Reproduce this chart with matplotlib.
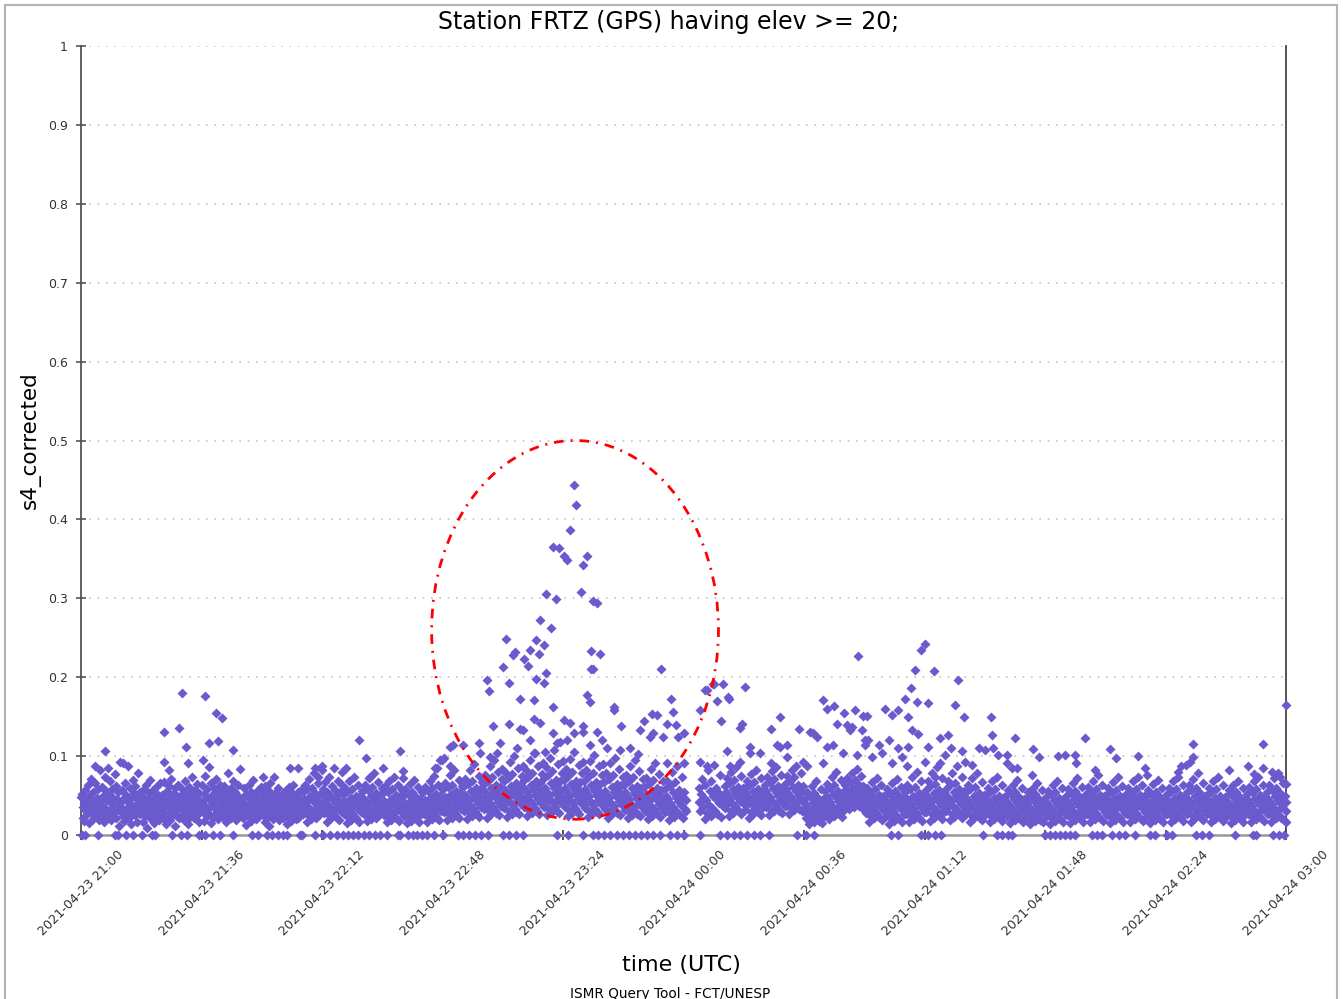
import numpy as np
import pandas as pd
import matplotlib
matplotlib.use("Agg")
import matplotlib.pyplot as plt
import matplotlib.dates as mdates
from matplotlib.patches import Ellipse
from matplotlib.lines import Line2D

# time is in minutes after 2021-04-23 21:00 UTC, s4 values in thousandths for the dense band
t_start = pd.Timestamp("2021-04-23 21:00")

block_start = [0, 6, 12, 18, 24, 30, 36, 42, 48, 54, 60, 66, 72, 78, 84, 90, 96, 102, 108, 114,
               120, 126, 132, 138, 144, 150, 156, 162, 168, 174, 184.4, 192, 198, 204, 210, 216,
               222, 228, 234, 240, 246, 252, 258, 264, 270, 276, 282, 288, 294, 300, 306, 312,
               318, 324, 330, 336, 342, 348, 354]
block_end = [6, 12, 18, 24, 30, 36, 42, 48, 54, 60, 66, 72, 78, 84, 90, 96, 102, 108, 114, 120,
             126, 132, 138, 144, 150, 156, 162, 168, 174, 181.0, 192, 198, 204, 210, 216, 222,
             228, 234, 240, 246, 252, 258, 264, 270, 276, 282, 288, 294, 300, 306, 312, 318,
             324, 330, 336, 342, 348, 354, 360]
block_vals = [
    "48 52 35 22 41 18 57 30 44 26 63 38 15 50 29 71 45 33 20 55 40 27 66 36 24 47 31 58 19 43 82 34",
    "39 61 27 49 16 73 34 56 22 44 85 31 52 25 68 41 19 58 36 47 28 77 33 62 21 45 38 54 12 30 92 42",
    "35 57 24 46 18 66 31 51 27 43 88 36 22 59 40 14 48 29 70 33 53 25 62 38 17 45 30 78 42 26 55 37",
    "28 49 36 17 58 42 24 63 31 9 46 37 53 21 70 33 44 26 57 39 15 48 30 61 35 23 51 40 19 66 29 43",
    "33 51 22 45 67 28 39 14 56 41 25 62 35 48 19 71 30 44 27 53 37 12 59 32 46 24 64 38 21 50 34 42",
    "37 58 26 44 19 69 33 52 28 47 14 61 40 23 55 35 74 29 49 21 43 57 31 38 65 25 46 17 53 36 42 30",
    "41 63 29 52 18 75 36 47 24 58 33 86 27 44 15 66 39 51 22 60 35 45 28 71 31 54 20 48 38 64 26 43",
    "34 56 23 47 62 29 40 16 53 37 78 26 45 31 59 21 49 36 68 28 42 55 19 38 51 25 64 33 46 84 30 39",
    "31 48 22 41 59 27 36 13 52 38 24 64 33 45 18 55 29 42 70 26 37 50 20 44 32 57 23 39 47 28 35 61",
    "36 54 25 43 17 62 31 48 22 57 39 12 66 28 45 34 51 20 41 73 29 38 55 24 46 33 59 19 42 27 50 37",
    "30 47 21 39 56 26 35 14 50 41 23 61 32 44 18 53 28 38 64 25 36 49 20 42 31 55 22 37 46 27 34 58",
    "38 55 27 46 63 31 42 17 58 36 24 71 33 49 20 60 29 44 78 26 40 53 22 47 35 66 25 41 52 30 37 82",
    "40 58 28 49 67 32 44 16 55 38 25 74 35 51 21 62 30 46 85 27 42 57 23 50 36 69 19 43 54 31 39 80",
    "35 52 26 44 60 30 40 15 54 37 22 68 33 47 19 58 28 43 73 24 39 50 21 45 34 63 17 41 49 29 36 56",
    "37 56 27 45 64 32 41 18 57 39 24 72 34 49 20 61 30 44 79 26 40 53 22 48 35 67 25 42 51 31 38 60",
    "36 53 25 43 62 30 39 16 55 37 23 69 32 46 19 58 28 42 74 24 38 51 21 45 33 64 18 40 49 29 35 57",
    "33 50 24 41 58 28 37 15 52 35 21 65 31 44 18 55 26 39 70 23 36 48 20 43 32 61 17 38 46 27 34 54",
    "35 54 26 44 61 31 40 17 56 37 23 69 33 48 20 59 29 43 75 25 39 52 22 46 34 64 19 41 50 30 36 58",
    "39 58 29 48 66 34 44 19 61 41 26 76 36 52 22 64 32 47 83 28 42 56 24 50 37 70 21 45 54 33 40 62",
    "42 62 31 51 71 36 47 20 65 44 28 82 38 56 24 69 34 50 90 30 45 60 26 53 40 75 23 48 58 35 43 67",
    "44 65 33 54 76 38 50 22 69 46 30 87 40 59 26 73 36 53 95 32 48 63 28 57 42 80 25 51 61 37 45 71 84",
    "46 68 34 57 80 40 52 23 72 48 31 92 42 62 27 77 38 56 100 33 50 66 29 60 44 85 26 54 64 39 47 75 88",
    "47 70 35 58 83 41 54 24 74 50 32 95 43 64 28 79 39 58 104 34 51 68 30 62 45 88 27 55 66 40 49 77 91",
    "48 72 36 60 86 42 55 25 76 51 33 98 44 66 29 81 40 59 108 35 53 70 31 63 46 90 28 57 68 41 50 79 94",
    "47 70 35 59 84 41 54 24 75 50 32 96 43 65 28 80 39 58 105 34 52 69 30 62 45 89 27 56 67 40 49 78 92",
    "46 69 34 58 82 40 53 23 73 49 31 94 42 63 27 78 38 57 102 33 51 67 29 61 44 87 26 55 65 39 48 76 90",
    "45 67 33 56 79 39 51 22 71 47 30 91 41 61 26 76 37 55 98 32 49 65 28 59 43 84 25 53 63 38 46 74",
    "43 64 32 54 76 37 49 21 68 45 29 88 39 59 25 73 35 53 95 31 47 62 27 57 41 81 24 51 60 36 44 71",
    "41 61 30 52 72 35 47 20 65 43 27 84 37 56 24 70 33 50 91 29 45 59 26 54 39 77 23 49 57 34 42 68",
    "40 58 29 50 69 34 45 19 62 41 26 80 36 54 23 67 32 48 87 28 43 57 25 52 38 74 22 47 55 33 44 30",
    "42 60 31 52 71 36 47 20 64 44 28 83 38 56 24 69 34 50 89 30 45 59 27 54 40 76 23 49 38 46",
    "45 62 34 55 72 39 50 24 66 47 31 80 41 58 28 70 37 53 86 33 48 61 30 56 43 75 26 51 59 40",
    "43 60 32 53 69 38 48 22 63 45 29 77 40 56 27 67 35 51 82 31 46 58 28 54 41 72 25 50 57 36",
    "46 63 35 56 73 41 51 25 67 48 32 81 43 59 30 71 39 54 86 34 49 62 31 57 44 76 28 52 60 38",
    "48 65 37 58 75 43 53 27 69 50 34 83 45 61 32 73 41 56 88 36 51 64 33 59 46 78 30 54 62 40",
    "30 45 22 38 55 27 35 14 49 32 19 62 28 42 16 53 25 36 68 21 33 47 18 40 29 58 15 37 44 24",
    "40 56 30 49 65 35 45 20 60 42 27 74 37 52 24 64 33 48 80 29 43 56 26 51 38 70 23 46 54 32",
    "50 64 41 57 72 46 54 33 67 51 38 79 47 60 36 70 44 56 84 40 52 63 37 58 48 75 34 55 62 43",
    "38 52 28 45 60 33 42 17 55 39 24 67 35 48 21 58 31 44 72 26 40 51 23 47 36 63 19 43 50 30",
    "33 49 24 42 58 29 38 14 52 36 21 66 31 45 18 56 27 41 71 23 37 50 20 44 33 61 16 39 47 26",
    "37 54 27 46 64 32 42 16 58 39 24 73 34 50 20 61 30 45 80 26 40 53 22 48 35 68 18 43 51 29",
    "39 57 29 49 68 34 45 18 62 42 26 78 36 53 22 65 32 48 86 28 43 57 24 51 38 72 20 46 55 31",
    "40 58 30 50 69 35 46 19 63 43 27 79 37 54 23 66 33 49 88 29 44 58 25 52 39 74 21 47 56 32",
    "37 54 27 46 64 32 42 17 58 39 24 72 34 50 21 61 30 45 78 26 40 53 22 48 35 67 19 43 51 29",
    "35 51 26 44 60 30 40 16 55 37 23 68 32 47 20 58 28 42 74 25 38 50 21 45 33 63 18 41 48 28",
    "33 49 24 42 57 28 38 15 52 35 21 64 30 45 19 55 27 40 70 23 36 48 20 43 32 60 17 39 46 26",
    "31 46 23 40 54 27 36 14 49 33 20 60 29 43 18 52 25 38 66 22 34 45 19 41 30 57 16 37 44 25",
    "32 48 24 41 56 28 37 14 51 34 21 63 30 44 18 54 26 39 68 22 35 47 20 42 31 59 16 38 45 26",
    "34 50 25 43 58 29 39 15 53 36 22 66 31 46 19 56 27 41 72 23 37 49 21 44 32 61 17 40 47 27",
    "35 52 26 45 61 30 40 16 55 38 23 69 33 48 20 58 28 43 76 24 38 51 22 46 34 64 18 41 49 29",
    "34 51 25 44 59 29 39 15 54 37 22 67 32 47 19 57 27 42 73 23 37 50 21 45 33 62 17 40 48 28",
    "35 52 26 45 60 30 40 16 55 38 23 68 33 48 20 58 28 43 74 24 38 51 22 46 34 63 18 41 49 29",
    "33 49 24 42 57 28 38 15 52 35 21 65 31 45 19 55 26 40 70 23 36 48 20 43 32 60 16 39 46 27",
    "35 52 26 44 60 30 40 16 55 37 23 68 32 47 20 58 28 42 74 24 38 51 21 45 33 63 18 41 48 29",
    "37 54 27 46 63 32 42 17 57 39 24 71 34 49 21 60 30 44 78 25 40 53 22 47 35 66 19 43 50 30",
    "35 51 26 44 60 30 40 16 55 37 23 68 32 47 20 58 28 42 73 24 38 50 21 45 33 63 18 41 48 28",
    "33 49 24 42 57 28 38 15 52 35 21 64 30 45 19 55 26 40 69 23 36 48 20 43 32 60 16 39 46 27",
    "35 52 26 44 61 30 40 16 55 37 23 68 32 47 20 58 28 42 74 24 38 51 21 45 33 63 18 41 48 29",
    "37 54 27 46 63 32 42 17 57 39 24 72 34 49 21 60 30 44 79 25 40 53 22 47 35 66 19 43 50 30",
]

# readings at exactly zero
zero_times = [0.3, 1.2, 5.2, 10.2, 11.2, 13.4, 15.5, 18.2, 21.2, 22.1, 27.2, 29.8, 31.7, 35.3,
              37.1, 39.4, 41.5, 45.4, 51.2, 52.8, 55.6, 57.1, 58.9, 60.4, 61.6, 65.4, 66.0, 69.9,
              72.2, 74.4, 76.5, 78.2, 79.8, 81.4, 82.9, 84.5, 86.1, 87.7, 89.3, 91.4, 94.7, 95.3,
              97.7, 99.2, 100.4, 102.0, 103.4, 105.5, 108.2, 112.6, 114.2, 116.0, 117.7, 119.5,
              121.6, 126.0, 128.0, 130.0, 132.0, 142.2, 145.5, 150.0, 153.0, 154.6, 156.3, 158.0,
              160.0, 162.0, 163.7, 165.5, 167.2, 169.0, 171.0, 173.0, 176.0, 178.0, 180.0, 185.0,
              191.0, 193.0, 195.0, 197.0, 199.0, 201.0, 203.0, 205.5, 214.0, 216.5, 219.0, 242.0,
              244.0, 251.0, 253.0, 255.0, 257.0, 269.5, 273.7, 275.2, 276.8, 278.0, 288.0, 289.5,
              291.0, 292.5, 294.0, 295.5, 297.0, 302.0, 303.5, 305.0, 308.0, 310.0, 312.0, 315.0,
              319.5, 321.0, 324.5, 326.0, 333.0, 335.0, 337.0, 344.8, 350.0, 351.0, 356.0, 357.8,
              359.5]

# scattered higher readings (minute, s4)
high_t = [4.2, 7.2, 12.6, 24.9, 24.9, 26.3, 29.4, 30.1, 31.4, 32.1, 36.4, 37.0, 38.3, 40.2, 41.0,
          42.0, 45.3, 54.3, 62.4, 64.9, 69.9, 70.9, 71.9, 77.9, 79.3, 83.0, 85.1, 86.3, 90.1, 95.3,
          96.3, 96.3, 105.8, 106.3, 107.3, 107.8, 108.3, 110.3, 110.3,
          111.2, 114.2, 119.0, 119.2, 121.2, 121.9, 122.2, 123.2, 124.2, 125.2, 126.2, 127.0,
          128.0, 128.0, 129.0, 129.8, 130.2, 131.2, 131.2, 132.0, 132.2, 133.4, 134.2, 134.2,
          135.2, 135.2, 135.7, 136.0, 136.0, 136.9, 137.2, 137.2, 138.3, 138.3, 138.6, 139.0,
          139.0, 140.3, 140.9, 140.9, 140.9, 141.9, 142.1, 142.9, 143.1, 144.3, 144.3, 145.1,
          145.3, 146.1, 146.1, 147.3, 147.3, 147.9, 149.3, 149.9, 149.9, 150.1, 151.1, 151.3,
          152.1, 152.1, 152.3, 152.3, 152.9, 152.9, 154.3, 154.3, 155.1, 155.6, 157.1, 159.1,
          159.3, 161.1, 161.4, 164.0, 166.5, 167.0, 168.2, 170.0, 170.5, 171.0, 172.2, 173.2,
          174.0, 175.0, 175.0, 176.2, 177.0, 177.8, 178.5, 180.0, 180.0,
          185.0, 185.0, 186.4, 186.9, 187.0, 188.9, 189.1, 189.9, 191.1, 191.9, 193.0, 193.4,
          193.7, 194.0, 197.0, 197.0, 197.4, 198.4, 200.0, 200.0, 203.0, 206.0, 206.0, 207.9,
          208.9, 208.9, 210.9, 210.9, 214.6, 215.8, 216.8, 217.8, 218.8, 219.8, 221.8, 221.8,
          222.8, 223.0, 224.8, 225.0, 225.9, 227.8, 228.0, 228.8, 229.8, 230.3, 231.3, 231.8,
          232.1, 233.3, 233.6, 234.3, 234.3, 234.8, 235.2, 236.3, 238.3, 239.3, 240.2, 241.3,
          242.2, 242.3, 244.2, 244.2, 245.2, 246.2, 246.7, 247.0, 247.2, 248.0, 248.2, 249.2,
          249.7, 250.0, 251.0, 252.2, 252.2, 253.0, 253.0, 254.7, 255.2, 256.7, 256.7, 258.2,
          259.0, 260.0, 261.2, 261.9, 263.2, 263.9, 264.2, 266.2, 268.2, 270.2, 271.9, 272.1,
          272.6, 273.9, 276.6, 276.6, 278.1, 279.1, 279.6, 284.0, 284.5, 286.2, 292.0,
          294.0, 297.0, 297.3, 300.0, 303.0, 307.3, 309.3, 315.9, 317.9, 318.4, 327.7, 328.7,
          330.2, 331.2, 332.1, 332.1, 343.1, 348.5, 350.5, 353.0, 353.0, 355.8, 358.2, 360.0,
          360.0, 360.0, 360.0]
high_v = [.087, .106, .091, .131, .092, .083, .135, .180, .112, .091, .095, .176, .117, .154, .119,
          .148, .108, .074, .085, .085, .085, .074, .087, .063, .085, .120, .097, .074, .085, .107,
          .081, .072, .085, .085, .095, .095, .097, .112, .087,
          .114, .114, .116, .104, .196, .183, .099, .138, .104, .117, .213, .249,
          .193, .141, .228, .232, .110, .173, .134, .133, .223, .214, .235, .120,
          .171, .147, .104, .247, .198, .230, .272, .142, .241, .193, .105, .305,
          .205, .262, .365, .162, .129, .299, .117, .364, .118, .354, .146, .120,
          .348, .387, .142, .443, .129, .418, .308, .342, .138, .131, .353, .177,
          .168, .114, .233, .210, .297, .211, .294, .131, .230, .120, .110, .158,
          .162, .108, .138, .110, .103, .133, .144, .124, .153, .129, .152, .210,
          .124, .141, .091, .173, .156, .139, .124, .129, .091,
          .158, .093, .184, .184, .087, .192, .192, .170, .144, .192, .106, .175,
          .173, .087, .135, .093, .141, .187, .104, .112, .104, .134, .091, .114,
          .150, .112, .114, .099, .134, .093, .087, .131, .129, .124, .171, .091,
          .112, .160, .114, .163, .141, .104, .154, .139, .133, .137, .159, .101,
          .227, .133, .151, .114, .120, .151, .120, .099, .114, .104, .160, .120,
          .152, .091, .158, .110, .099, .172, .087, .149, .112, .186, .133, .209,
          .169, .128, .234, .242, .093, .167, .112, .208, .074, .123, .091, .101,
          .127, .110, .165, .197, .106, .149, .093, .089, .110, .108, .150, .127,
          .110, .101, .101, .091, .085, .123, .085, .076, .109, .099, .100,
          .102, .102, .091, .123, .082, .109, .098, .100, .085, .076, .080, .087,
          .089, .093, .115, .099, .082, .087, .077, .115, .085, .080, .074, .165,
          .065, .042, .017]

# assemble the series
mins, s4 = [], []
for t0, t1, vals in zip(block_start, block_end, block_vals):
    v = [int(x) / 1000 for x in vals.split()]
    n = len(v)
    mins += [t0 + (i + 0.5) * (t1 - t0) / n for i in range(n)]
    s4 += v
mins += zero_times
s4 += [0.0] * len(zero_times)
mins += high_t
s4 += high_v

times = t_start + pd.to_timedelta(np.array(mins), unit="min")

fig = plt.figure(figsize=(13.43, 9.99), dpi=100)
ax = fig.add_axes([81 / 1343, 1 - 835 / 999, (1286 - 81) / 1343, (835 - 46) / 999])

ax.scatter(times, s4, marker="D", s=26, color="#6a5acd", linewidths=0, zorder=3, clip_on=False)

# highlighted region
c = mdates.date2num(t_start + pd.Timedelta(minutes=147.6))
ell = Ellipse((c, 0.26), 85.7 / 1440, 0.48, fill=False, edgecolor="red",
              linewidth=2.0, linestyle=(0, (3.5, 2.5, 0.7, 2.5)), zorder=4)
ax.add_patch(ell)

ax.set_xlim(t_start, t_start + pd.Timedelta(hours=6))
ax.set_ylim(0, 1)
ax.set_yticks(np.arange(0, 1.01, 0.1))
ax.yaxis.set_major_formatter(plt.FuncFormatter(lambda v, p: f"{v:g}"))
ax.set_xticks(t_start + pd.to_timedelta(np.arange(0, 361, 36), unit="min"))
ax.xaxis.set_major_formatter(mdates.DateFormatter("%Y-%m-%d %H:%M"))

ax.yaxis.grid(True, color="#c4c4c4", linestyle=(0, (1, 4)), linewidth=1.2)
ax.set_axisbelow(True)

ax.spines["top"].set_visible(False)
ax.spines["left"].set_color("#555555")
ax.spines["left"].set_linewidth(1.3)
ax.spines["right"].set_color("#444444")
ax.spines["right"].set_linewidth(1.3)
ax.spines["bottom"].set_color("#999999")
ax.spines["bottom"].set_linewidth(1.8)

ax.tick_params(axis="y", direction="inout", length=7, width=1.2, color="#555555",
               labelsize=9, labelcolor="#333333", pad=6)
ax.tick_params(axis="x", direction="inout", length=7, width=1.2, color="#333333",
               labelsize=9.2, labelcolor="#333333", pad=6)
for lab in ax.get_xticklabels():
    lab.set_rotation(45)
    lab.set_ha("center")

fig.text(669 / 1343, 1 - 22 / 999, "Station FRTZ (GPS) having elev >= 20;", ha="center",
         va="center", fontsize=17)
fig.text(681 / 1343, 1 - 965 / 999, "time (UTC)", ha="center", va="center", fontsize=16)
fig.text(30 / 1343, 1 - 440 / 999, "s4_corrected", ha="center", va="center", rotation=90,
         fontsize=15.5)
fig.text(670 / 1343, 1 - 987 / 999, "ISMR Query Tool - FCT/UNESP", ha="center", va="top",
         fontsize=9.8)

# grey frame around the figure
bc = "#b4b4b4"
fig.add_artist(Line2D([5 / 1343, 5 / 1343], [0, 1 - 5 / 999], color=bc, lw=1.5))
fig.add_artist(Line2D([5 / 1343, 1337 / 1343], [1 - 5 / 999, 1 - 5 / 999], color=bc, lw=1.5))
fig.add_artist(Line2D([1337 / 1343, 1337 / 1343], [0, 1 - 5 / 999], color=bc, lw=1.5))

fig.savefig("out.png", dpi=100)
